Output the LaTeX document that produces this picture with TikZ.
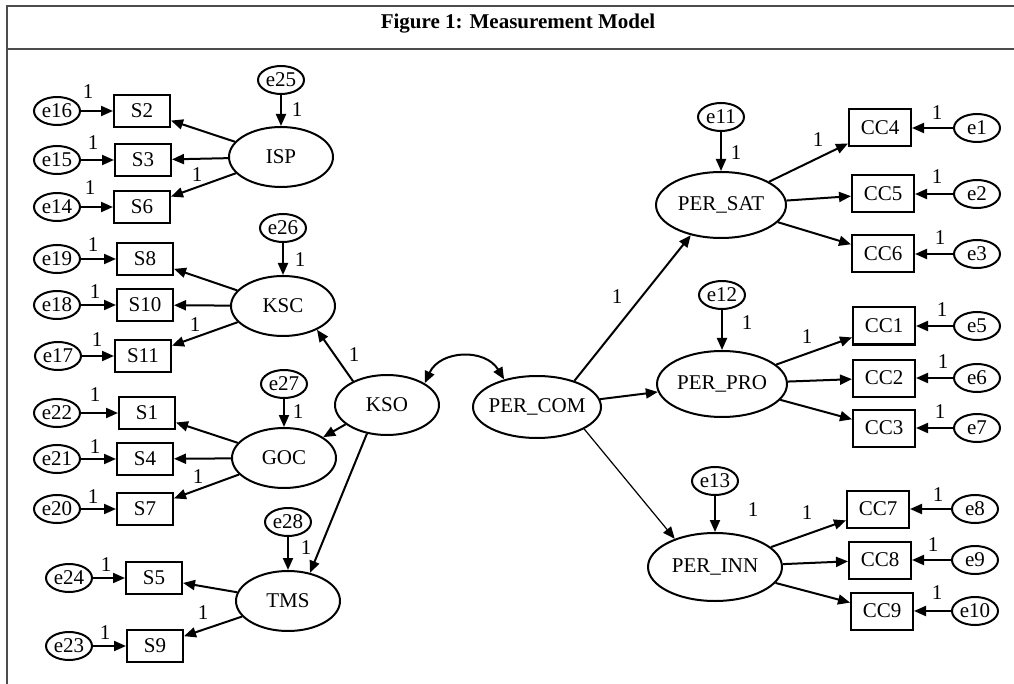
\documentclass[tikz,border=0pt]{standalone}
\usepackage{fontspec}
\setmainfont{Liberation Serif}
\usetikzlibrary{arrows.meta,shapes.geometric}
\newcommand\zt[1]{\makebox[0pt]{#1}}
\begin{document}
\begin{tikzpicture}[x=1pt,y=-1pt,
  every node/.style={font=\fontsize{21}{24}\selectfont},
  lat/.style={ellipse, draw, line width=2pt, minimum width=104pt, minimum height=60pt, inner sep=0pt},
  per/.style={lat, minimum width=130pt, minimum height=66pt},
  err/.style={ellipse, draw, line width=2pt, minimum width=46pt, minimum height=28pt, inner sep=0pt},
  obs/.style={rectangle, draw, line width=2pt, minimum width=56pt, minimum height=32pt, inner sep=0pt},
  cc/.style={obs, minimum width=62pt, minimum height=37pt},
  arr/.style={-{Triangle[length=12pt,width=10pt]}, line width=2pt},
  thinarr/.style={-{Triangle[length=12pt,width=10pt]}, line width=1.2pt},
  lbl/.style={inner sep=0pt},
  frame/.style={draw=black!70, line width=2pt}
]
\useasboundingbox (0,0) rectangle (1014,684);
\draw[frame] (7,684) -- (7,6) -- (1014,6);
\draw[frame] (7,49) -- (1014,49);
\node[font=\fontsize{21}{24}\selectfont\bfseries] (title) at (518,24) {Figure 1: Measurement Model};

% ISP group
\node[err] (e25) at (281,80) {\zt{e25}};
\node[lat] (ISP) at (281,157) {\zt{ISP}};
\node[err] (e16) at (57,111) {\zt{e16}};
\node[obs] (S2) at (142,111) {S2};
\node[err] (e15) at (57,160) {\zt{e15}};
\node[obs] (S3) at (143,160) {S3};
\node[err] (e14) at (57,207) {\zt{e14}};
\node[obs] (S6) at (142,207) {S6};
% KSC group
\node[err] (e26) at (283,228) {\zt{e26}};
\node[lat] (KSC) at (283,306) {\zt{KSC}};
\node[err] (e19) at (57,259) {\zt{e19}};
\node[obs] (S8) at (145,259) {S8};
\node[err] (e18) at (57,305) {\zt{e18}};
\node[obs] (S10) at (145,305) {S10};
\node[err] (e17) at (58,356) {\zt{e17}};
\node[obs] (S11) at (143,356) {S11};
% GOC group
\node[err] (e27) at (284,384) {\zt{e27}};
\node[lat] (GOC) at (284,458) {\zt{GOC}};
\node[err] (e22) at (57,413) {\zt{e22}};
\node[obs] (S1) at (147,413) {S1};
\node[err] (e21) at (57,459) {\zt{e21}};
\node[obs] (S4) at (145,459) {S4};
\node[err] (e20) at (57,509) {\zt{e20}};
\node[obs] (S7) at (145,509) {S7};
% TMS group
\node[err] (e28) at (288,522) {\zt{e28}};
\node[lat] (TMS) at (288,601) {\zt{TMS}};
\node[err] (e24) at (69,578) {\zt{e24}};
\node[obs] (S5) at (154,578) {S5};
\node[err] (e23) at (69,646) {\zt{e23}};
\node[obs] (S9) at (155,646) {S9};
% centre
\node[lat] (KSO) at (387,405) {\zt{KSO}};
\node[per, minimum width=128pt, minimum height=62pt] (PERCOM) at (537,407) {\zt{PER\_COM}};
% PER_SAT
\node[err] (e11) at (721,117) {\zt{e11}};
\node[per] (PERSAT) at (721,205) {\zt{PER\_SAT}};
\node[cc] (CC4) at (880,128) {CC4};
\node[err] (e1) at (977,128) {\zt{e1}};
\node[cc] (CC5) at (883,194) {CC5};
\node[err] (e2) at (977,194) {\zt{e2}};
\node[cc] (CC6) at (883,254) {CC6};
\node[err] (e3) at (977,254) {\zt{e3}};
% PER_PRO
\node[err] (e12) at (722,295) {\zt{e12}};
\node[per] (PERPRO) at (722,384) {\zt{PER\_PRO}};
\node[cc] (CC1) at (884,326) {CC1};
\node[err] (e5) at (977,326) {\zt{e5}};
\node[cc] (CC2) at (884,378) {CC2};
\node[err] (e6) at (977,378) {\zt{e6}};
\node[cc] (CC3) at (884,428) {CC3};
\node[err] (e7) at (977,428) {\zt{e7}};
% PER_INN
\node[err] (e13) at (715,481) {\zt{e13}};
\node[per, minimum width=134pt, minimum height=68pt] (PERINN) at (715,567) {\zt{PER\_INN}};
\node[cc] (CC7) at (878,509) {CC7};
\node[err] (e8) at (975,509) {\zt{e8}};
\node[cc] (CC8) at (880,560) {CC8};
\node[err] (e9) at (975,560) {\zt{e9}};
\node[cc] (CC9) at (882,611) {CC9};
\node[err] (e10) at (975,611) {\zt{e10}};

% arrows
\foreach \a/\b in {e25/ISP,ISP/S2,ISP/S3,ISP/S6,e16/S2,e15/S3,e14/S6,
  e26/KSC,KSC/S8,KSC/S10,KSC/S11,e19/S8,e18/S10,e17/S11,
  e27/GOC,GOC/S1,GOC/S4,GOC/S7,e22/S1,e21/S4,e20/S7,
  e28/TMS,TMS/S5,TMS/S9,e24/S5,e23/S9,
  e11/PERSAT,PERSAT/CC4,PERSAT/CC5,PERSAT/CC6,e1/CC4,e2/CC5,e3/CC6,
  e12/PERPRO,PERPRO/CC1,PERPRO/CC2,PERPRO/CC3,e5/CC1,e6/CC2,e7/CC3,
  e13/PERINN,PERINN/CC7,PERINN/CC8,PERINN/CC9,e8/CC7,e9/CC8,e10/CC9,
  PERCOM/PERPRO}
  \draw[arr] (\a) -- (\b);
\draw[arr] (KSO.145) -- (KSC.-35);
\draw[arr] (KSO.205) -- (GOC.28);
\draw[arr] (KSO.235) -- (TMS.52);
\draw[arr] (PERCOM.35) -- (PERSAT.225);
\draw[thinarr] (PERCOM.-25) -- (PERINN.145);
\draw[{Triangle[length=12pt,width=10pt]}-{Triangle[length=12pt,width=10pt]}, line width=2pt]
  (KSO.30) .. controls (440,350) and (485,348) .. (PERCOM.140);

% labels
\foreach \p [count=\i] in {(297,110),(88,92),(93,143),(90,188),(197,175),
  (300,260),(93,245),(95,292),(97,340),(195,325),(354,355),
  (298,412),(95,395),(95,447),(93,497),(198,477),
  (306,548),(106,565),(105,633),(203,613),
  (736,153),(937,113),(937,177),(940,238),(818,140),(617,297),
  (747,323),(942,310),(943,362),(940,412),(807,337),
  (753,510),(938,495),(933,545),(937,593),(807,513)}
  \node[lbl] (one\i) at \p {1};
\end{tikzpicture}
\end{document}
